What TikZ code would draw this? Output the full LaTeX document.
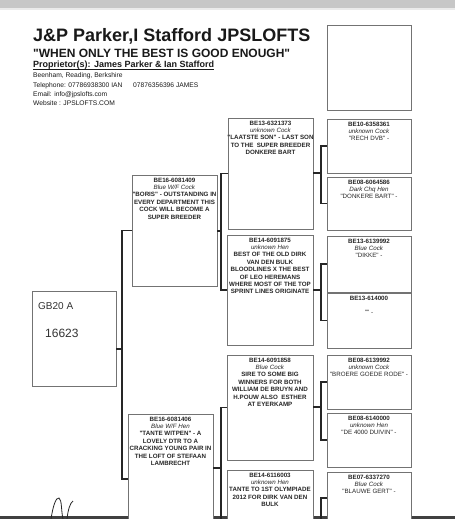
\documentclass[tikz,border=0pt]{standalone}
\usepackage{fontspec}
\setmainfont{Liberation Sans}[Ligatures=TeXOff]
\usetikzlibrary{shadows,calc}
\newcommand{\pedbox}[5]{\node[pbox, minimum width=#4pt, minimum height=#5pt] (#1) at (#2,#3) {};}
\begin{document}
\begin{tikzpicture}[x=1pt,y=-1pt,
  pbox/.style={draw=black!55, line width=0.4pt, fill=white, inner sep=0pt, outer sep=0pt, anchor=north west,
     drop shadow={shadow xshift=1.1pt, shadow yshift=-1.1pt, fill=black!80, opacity=1}},
  conn/.style={draw=black!85, line width=1.2pt},
  btext/.style={anchor=north, align=center, inner sep=0pt, text=black!85, font=\fontsize{6.2}{7.4}\selectfont},
  head/.style={anchor=base west, inner sep=0pt, text=black!90},
  small/.style={head, font=\fontsize{6.7}{8}\selectfont},
  hand/.style={anchor=base west, inner sep=0pt, text=black!80}]
\useasboundingbox (0,0) rectangle (455,519);
\clip (0,0) rectangle (455,519);
\fill[white] (0,0) rectangle (455,519);
\fill[black!22] (0,0) rectangle (455,8);
\fill[black!8] (0,8) rectangle (455,10);
\fill[black!75] (0,516) rectangle (455,519);

% header
\node[head, font=\bfseries\fontsize{18}{20}\selectfont] (title) at (33,42) {J\&P Parker,I Stafford JPSLOFTS};
\node[head, font=\bfseries\fontsize{12}{14}\selectfont] (motto) at (33,57) {"WHEN ONLY THE BEST IS GOOD ENOUGH"};
\node[head, font=\bfseries\fontsize{9}{11}\selectfont] (prop) at (33,67.5) {Proprietor(s): James Parker \& Ian Stafford};
\draw[black!90, line width=0.7pt] ($(prop.base west)+(0,1.8)$) -- ($(prop.base east)+(0,1.8)$);
\node[small] (addr) at (33,77.5) {Beenham, Reading, Berkshire};
\node[small] (tel1) at (33,87.5) {Telephone: 07786938300 IAN};
\node[small] (tel2) at (133,87.5) {07876356396 JAMES};
\node[small] (mail) at (33,96.5) {Email: info@jpslofts.com};
\node[small] (web) at (33,105.5) {Website : JPSLOFTS.COM};

% connector joints
\coordinate (j1) at (122,349);
\coordinate (j2a) at (221,231);
\coordinate (j2b) at (221,468);
\coordinate (j3a) at (321,173);
\coordinate (j3b) at (321,290);
\coordinate (j3c) at (321,407);
\coordinate (j3d) at (321,540);

% boxes
\pedbox{top}{327}{25}{84}{85}
\pedbox{g1}{32}{291}{84}{95}
\pedbox{g2a}{132}{175}{85}{111}
\pedbox{g2b}{128}{414}{85}{130}
\pedbox{g3a}{228}{118}{85}{111}
\pedbox{g3b}{227}{235}{86}{110}
\pedbox{g3c}{227}{355}{86}{105}
\pedbox{g3d}{227}{470}{86}{110}
\pedbox{g4a}{327}{119}{84}{54}
\pedbox{g4b}{327}{177}{84}{53}
\pedbox{g4c}{327}{236}{84}{56}
\pedbox{g4d}{327}{293}{84}{55}
\pedbox{g4e}{327}{355}{84}{54}
\pedbox{g4f}{327}{413}{84}{54}
\pedbox{g4g}{327}{472}{84}{52}

\draw[conn] (g2a.west) -| (j1) |- (g2b.west);
\draw[conn] (g1.east |- j1) -- (j1);
\draw[conn] (g3a.west) -| (j2a) |- (g3b.west);
\draw[conn] (g2a.east |- j2a) -- (j2a);
\draw[conn] (g3c.west) -| (j2b) |- (g3d.west);
\draw[conn] (g2b.east |- j2b) -- (j2b);
\draw[conn] (g4a.west) -| (j3a) |- (g4b.west);
\draw[conn] (g3a.east |- j3a) -- (j3a);
\draw[conn] (g4c.west) -| (j3b) |- (g4d.west);
\draw[conn] (g3b.east |- j3b) -- (j3b);
\draw[conn] (g4e.west) -| (j3c) |- (g4f.west);
\draw[conn] (g3c.east |- j3c) -- (j3c);
\draw[conn] (g4g.west) -| (j3d);

% texts
\node[btext] (g2at) at ($(g2a.north)+(0,2.5)$) {\textbf{BE16-6081409}\\ \textit{Blue W/F Cock}\\ \textbf{"BORIS" - OUTSTANDING IN}\\ \textbf{EVERY DEPARTMENT THIS}\\ \textbf{COCK WILL BECOME A}\\ \textbf{SUPER BREEDER}};
\node[btext] (g2bt) at ($(g2b.north)+(0,2.5)$) {\textbf{BE16-6081406}\\ \textit{Blue W/F Hen}\\ \textbf{"TANTE WITPEN" - A}\\ \textbf{LOVELY DTR TO A}\\ \textbf{CRACKING YOUNG PAIR IN}\\ \textbf{THE LOFT OF STEFAAN}\\ \textbf{LAMBRECHT}};
\node[btext] (g3at) at ($(g3a.north)+(0,2.5)$) {\textbf{BE13-6321373}\\ \textit{unknown Cock}\\ \textbf{"LAATSTE SON" - LAST SON}\\ \textbf{TO THE\ \ SUPER BREEDER}\\ \textbf{DONKERE BART}};
\node[btext] (g3bt) at ($(g3b.north)+(0,2.5)$) {\textbf{BE14-6091875}\\ \textit{unknown Hen}\\ \textbf{BEST OF THE OLD DIRK}\\ \textbf{VAN DEN BULK}\\ \textbf{BLOODLINES X THE BEST}\\ \textbf{OF LEO HEREMANS}\\ \textbf{WHERE MOST OF THE TOP}\\ \textbf{SPRINT LINES ORIGINATE}};
\node[btext] (g3ct) at ($(g3c.north)+(0,2.5)$) {\textbf{BE14-6091858}\\ \textit{Blue Cock}\\ \textbf{SIRE TO SOME BIG}\\ \textbf{WINNERS FOR BOTH}\\ \textbf{WILLIAM DE BRUYN AND}\\ \textbf{H.POUW ALSO\ \ ESTHER}\\ \textbf{AT EYERKAMP}};
\node[btext] (g3dt) at ($(g3d.north)+(0,2.5)$) {\textbf{BE14-6116003}\\ \textit{unknown Hen}\\ \textbf{TANTE TO 1ST OLYMPIADE}\\ \textbf{2012 FOR DIRK VAN DEN}\\ \textbf{BULK}};
\node[btext] (g4at) at ($(g4a.north)+(0,2.5)$) {\textbf{BE10-6358361}\\ \textit{unknown Cock}\\ "RECH DVB" -};
\node[btext] (g4bt) at ($(g4b.north)+(0,2.5)$) {\textbf{BE08-6064586}\\ \textit{Dark Chq Hen}\\ "DONKERE BART" -};
\node[btext] (g4ct) at ($(g4c.north)+(0,2.5)$) {\textbf{BE13-6139992}\\ \textit{Blue Cock}\\ "DIKKE" -};
\node[btext] (g4dt) at ($(g4d.north)+(0,2.5)$) {\textbf{BE13-614000}\\ \strut\\ "" -};
\node[btext] (g4et) at ($(g4e.north)+(0,2.5)$) {\textbf{BE08-6139992}\\ \textit{unknown Cock}\\ "BROERE GOEDE RODE" -};
\node[btext] (g4ft) at ($(g4f.north)+(0,2.5)$) {\textbf{BE08-6140000}\\ \textit{unknown Hen}\\ "DE 4000 DUIVIN" -};
\node[btext] (g4gt) at ($(g4g.north)+(0,2.5)$) {\textbf{BE07-6337270}\\ \textit{Blue Cock}\\ "BLAUWE GERT" -};

% handwriting
\node[hand, font=\fontsize{10}{12}\selectfont] (hw1) at (38,309) {GB20 A};
\node[hand, font=\fontsize{12}{14}\selectfont] (hw2) at (45,337) {16623};

% signature
\draw[black!85, line width=0.8pt] (51,519) .. controls (53,506) and (56,497) .. (59,498) .. controls (62,500) and (61,510) .. (63,519);
\draw[black!85, line width=0.8pt] (67,519) .. controls (68,510) and (70,503) .. (73,501);
\end{tikzpicture}
\end{document}
